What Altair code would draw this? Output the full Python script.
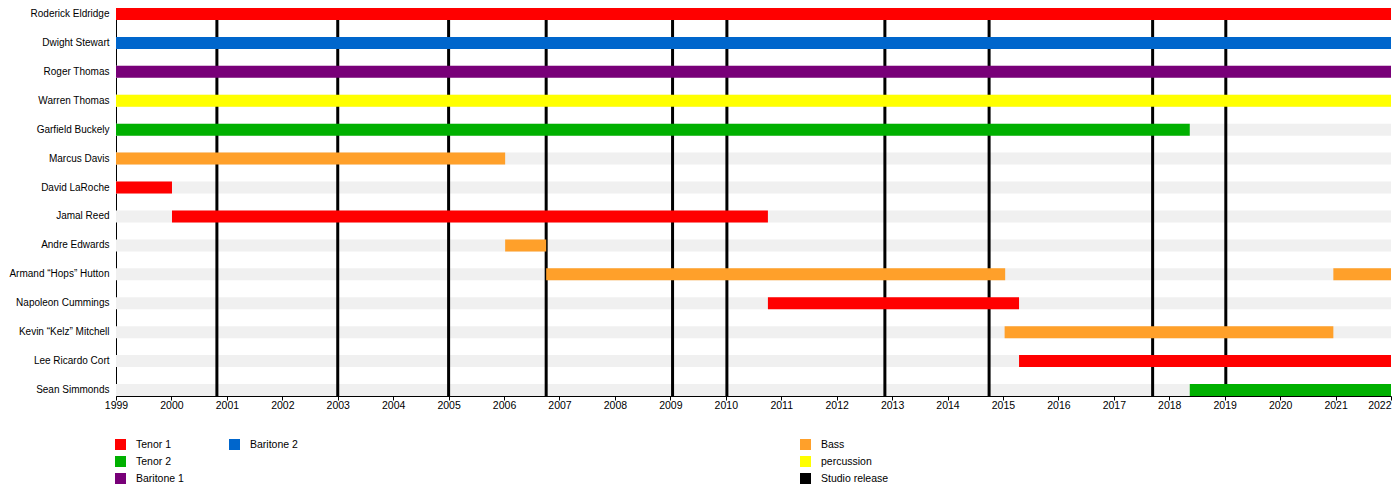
import altair as alt
import pandas as pd

# ---- data ----
members = [
    "Roderick Eldridge", "Dwight Stewart", "Roger Thomas", "Warren Thomas",
    "Garfield Buckely", "Marcus Davis", "David LaRoche", "Jamal Reed",
    "Andre Edwards", "Armand \u201cHops\u201d Hutton", "Napoleon Cummings",
    "Kevin \u201cKelz\u201d Mitchell", "Lee Ricardo Cort", "Sean Simmonds",
]

bar_member = [
    "Roderick Eldridge", "Dwight Stewart", "Roger Thomas", "Warren Thomas",
    "Garfield Buckely", "Marcus Davis", "David LaRoche", "Jamal Reed",
    "Andre Edwards", "Armand \u201cHops\u201d Hutton", "Armand \u201cHops\u201d Hutton",
    "Napoleon Cummings", "Kevin \u201cKelz\u201d Mitchell", "Lee Ricardo Cort",
    "Sean Simmonds",
]
bar_role = [
    "Tenor 1", "Baritone 2", "Baritone 1", "percussion",
    "Tenor 2", "Bass", "Tenor 1", "Tenor 1",
    "Bass", "Bass", "Bass",
    "Tenor 1", "Bass", "Tenor 1",
    "Tenor 2",
]
bar_start = [
    1999.0, 1999.0, 1999.0, 1999.0,
    1999.0, 1999.0, 1999.0, 2000.01,
    2006.02, 2006.76, 2020.96,
    2010.76, 2015.03, 2015.29,
    2018.37,
]
bar_end = [
    2022.0, 2022.0, 2022.0, 2022.0,
    2018.37, 2006.02, 2000.01, 2010.76,
    2006.76, 2015.04, 2022.0,
    2015.29, 2020.96, 2022.0,
    2022.0,
]

releases = [2000.82, 2003.0, 2005.0, 2006.76, 2009.04, 2010.02,
            2012.87, 2014.75, 2017.70, 2019.02]

roles = ["Tenor 1", "Tenor 2", "Baritone 1", "Baritone 2",
         "Bass", "percussion", "Studio release"]
role_colors = ["#ff0000", "#00b000", "#780078", "#0066cc",
               "#ffa02a", "#ffff00", "#000000"]

year_min, year_max = 1999, 2022
year_ticks = list(range(year_min, year_max + 1))

# ---- frames ----
bars = pd.DataFrame({"member": bar_member, "role": bar_role,
                     "start": bar_start, "end": bar_end})
bg = pd.DataFrame({"member": members,
                   "start": [year_min] * len(members),
                   "end": [year_max] * len(members)})
rel = pd.DataFrame({"date": releases})

FONT = "Liberation Sans"
FS = 10.5

x_scale = alt.Scale(domain=[year_min, year_max], nice=False, zero=False)
y_scale = alt.Scale(domain=members, paddingInner=0.585, paddingOuter=0)
x_axis = alt.Axis(values=year_ticks, format="d", title=None, grid=False,
                  tickSize=4, labelPadding=0, labelFlush=False,
                  labelAlign={"condition": {"test": f"datum.value >= {year_max}",
                                            "value": "right"},
                              "value": "center"},
                  labelFontSize=FS, labelColor="black", domainColor="black",
                  tickColor="black", labelOverlap=False)
y_axis = alt.Axis(title=None, ticks=False, labelPadding=7, labelFontSize=10,
                  labelColor="black", domainColor="black", grid=False)


def legend(vals, lx):
    return alt.Legend(orient="none", legendX=lx, legendY=431, values=vals,
                      title=None, direction="vertical", symbolType="square",
                      symbolSize=121, symbolStrokeWidth=0, symbolOpacity=1,
                      labelFontSize=FS, labelOffset=10, rowPadding=6,
                      padding=0, labelColor="black", labelFont=FONT)


color_scale = alt.Scale(domain=roles, range=role_colors)


def X(field):
    return alt.X(field, type="quantitative", scale=x_scale, axis=x_axis)


def Y():
    return alt.Y("member:N", scale=y_scale, axis=y_axis, sort=members)


bg_layer = alt.Chart(bg).mark_bar(color="#f0f0f0").encode(
    x=X("start"), x2="end:Q", y=Y())

rule_layer = alt.Chart(rel).mark_rule(color="black", strokeWidth=3).encode(
    x=X("date"))


def bar_layer(role_set, legend_vals, lx):
    return alt.Chart(bars).transform_filter(
        alt.FieldOneOfPredicate(field="role", oneOf=role_set)
    ).mark_bar().encode(
        x=X("start"),
        x2="end:Q",
        y=Y(),
        color=alt.Color("role:N", scale=color_scale,
                        legend=legend(legend_vals, lx)),
    )


bars1 = bar_layer(["Tenor 1", "Tenor 2", "Baritone 1"],
                  ["Tenor 1", "Tenor 2", "Baritone 1"], -1)
bars2 = bar_layer(["Baritone 2"], ["Baritone 2"], 113)
bars3 = bar_layer(["Bass", "percussion"],
                  ["Bass", "percussion", "Studio release"], 684)

chart = alt.layer(bg_layer, rule_layer, bars1, bars2, bars3).resolve_scale(
    color="independent"
).properties(
    width=1275, height=388,
    autosize=alt.AutoSizeParams(type="none"),
    padding={"left": 108, "top": 0, "right": 1, "bottom": 88},
).configure(font=FONT).configure_view(strokeWidth=0)

chart.save("out.html", embed_options={"renderer": "svg", "actions": False})
